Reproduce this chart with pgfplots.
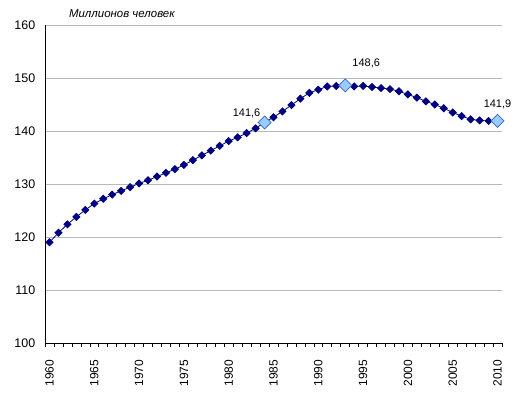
\documentclass[border=0pt]{standalone}
\usepackage{fontspec}
\setmainfont{Liberation Sans}
\usepackage{pgfplots}
\pgfplotsset{compat=1.18}
\begin{document}
\begin{tikzpicture}[x=1bp,y=1bp]
\begin{axis}[
  at={(0,0)}, anchor=south west,
  scale only axis, width=457bp, height=318bp,
  xmin=1959.5, xmax=2010.5, ymin=100, ymax=160,
  axis x line*=bottom, axis y line*=left,
  axis line style={black, line width=0.8pt},
  xtick={1960,1965,...,2010},
  major x tick style={draw=none},
  minor xtick={1959.5,1960.5,...,2010.5},
  minor x tick style={black, line width=0.6pt},
  minor tick length=4bp,
  tick align=outside,
  xticklabel style={rotate=90, anchor=east, font=\fontsize{12}{14}\selectfont},
  xticklabel={\pgfmathprintnumber[1000 sep={}]{\tick}},
  xticklabel shift=9bp,
  ytick={100,110,...,160},
  major y tick style={draw=none},
  yticklabel style={font=\fontsize{12.5}{14}\selectfont},
  yticklabel shift=2bp,
  ymajorgrids, grid style={gray!55, line width=0.7pt},
  /pgf/number format/assume math mode=true,
  /pgf/number format/1000 sep={},
  clip=false,
]
\addplot[color={rgb,255:red,0;green,0;blue,128}, line width=0.8pt, mark=square*, mark size=2.5bp,
  mark options={rotate=45, fill={rgb,255:red,0;green,0;blue,128}, draw={rgb,255:red,0;green,0;blue,128}}]
coordinates {
(1960,119.0)(1961,120.8)(1962,122.4)(1963,123.8)(1964,125.1)(1965,126.3)(1966,127.2)(1967,128.0)(1968,128.7)(1969,129.4)
(1970,130.1)(1971,130.7)(1972,131.4)(1973,132.1)(1974,132.8)(1975,133.6)(1976,134.5)(1977,135.4)(1978,136.3)(1979,137.2)
(1980,138.1)(1981,138.8)(1982,139.6)(1983,140.5)(1984,141.6)(1985,142.6)(1986,143.7)(1987,144.9)(1988,146.1)(1989,147.2)
(1990,147.8)(1991,148.4)(1992,148.5)(1993,148.6)(1994,148.4)(1995,148.5)(1996,148.3)(1997,148.1)(1998,147.9)(1999,147.5)
(2000,146.9)(2001,146.3)(2002,145.6)(2003,145.0)(2004,144.3)(2005,143.5)(2006,142.8)(2007,142.2)(2008,142.0)(2009,141.9)
(2010,141.9)
};
\addplot[only marks, mark=square*, mark size=4.6bp,
  mark options={rotate=45, fill={rgb,255:red,153;green,204;blue,255}, draw={rgb,255:red,51;green,102;blue,204}, line width=0.7pt}]
coordinates {(1984,141.6)(1993,148.6)(2010,141.9)};
\node[font=\fontsize{11}{13}\selectfont, xshift=-18bp, yshift=9.5bp] at (axis cs:1984,141.6) {141,6};
\node[font=\fontsize{11}{13}\selectfont, xshift=21bp, yshift=22bp] at (axis cs:1993,148.6) {148,6};
\node[font=\fontsize{11}{13}\selectfont, yshift=17bp] at (axis cs:2010,141.9) {141,9};
\node[anchor=west, font=\itshape\fontsize{11.5}{13}\selectfont] at (axis description cs:0.045,1.035) {Миллионов человек};
\end{axis}
\pgfresetboundingbox
\path (-45bp,-52bp) rectangle (471bp,343bp);
\end{tikzpicture}
\end{document}
